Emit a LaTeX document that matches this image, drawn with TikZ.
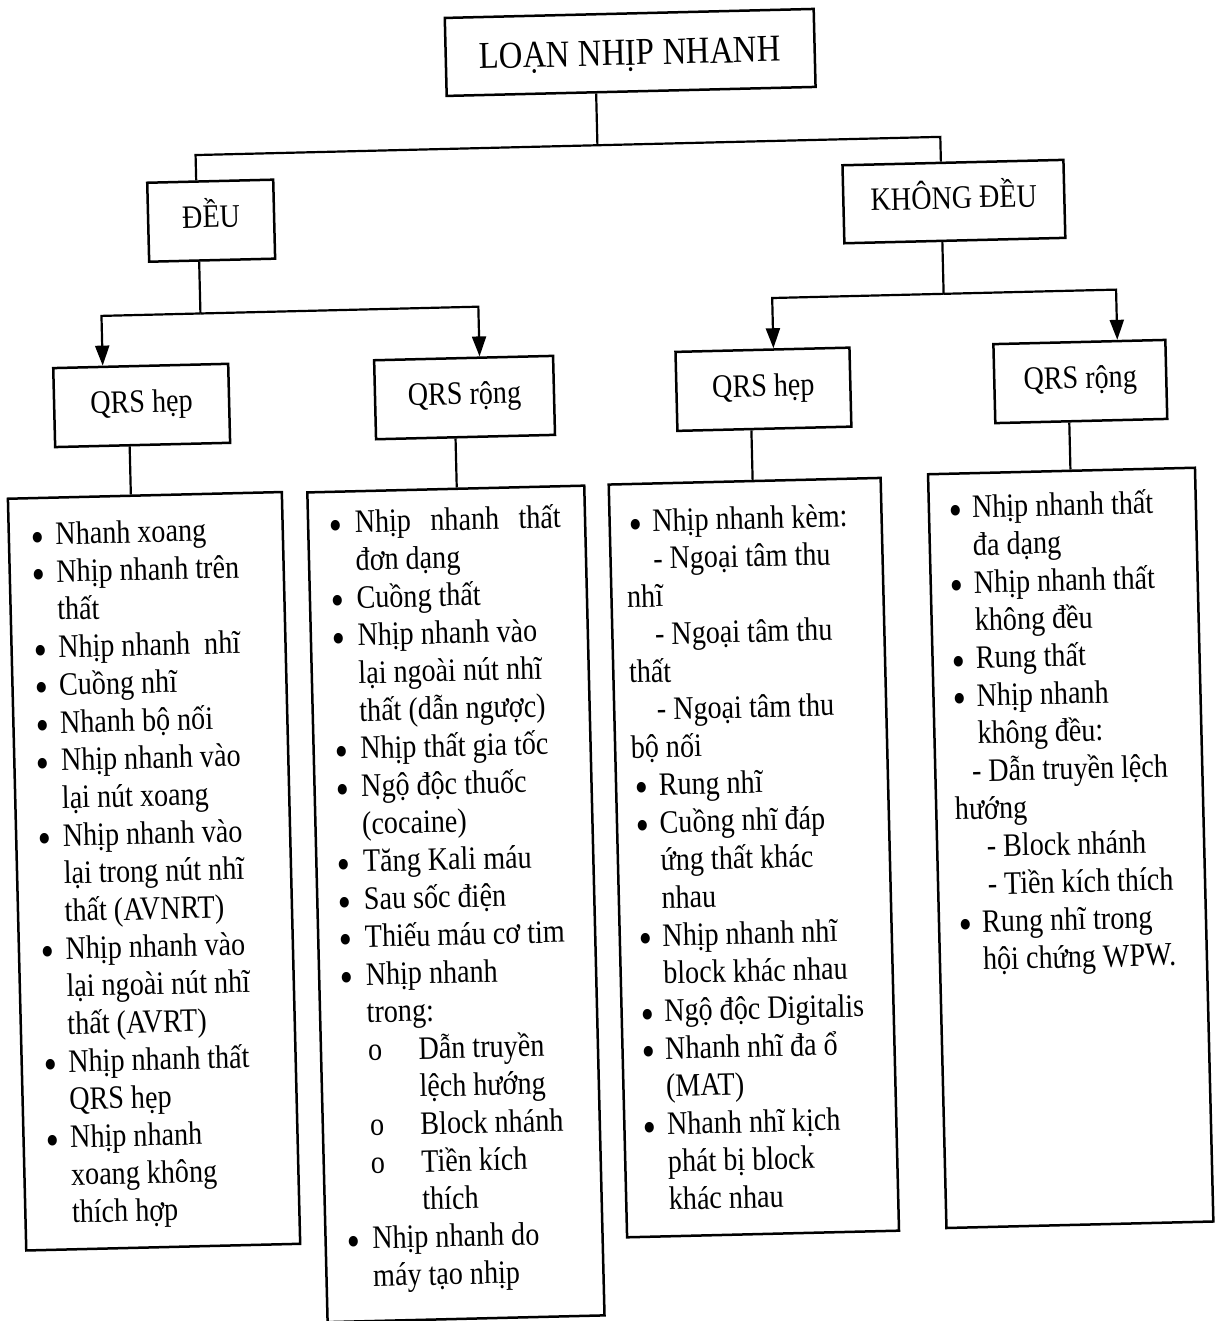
\documentclass[tikz,border=0pt]{standalone}
\usepackage{fontspec}
\usepackage{graphicx}
\setmainfont{Liberation Serif}[FakeStretch=0.86]
\usetikzlibrary{arrows.meta}

% list line helpers
\newlength\BulAt
\newlength\TxtAt
\newcommand\dotmark{\raisebox{-7pt}{\scalebox{1.35}{\textbullet}}}
\newcommand\Bu[1]{\hspace*{\BulAt}\makebox[\dimexpr\TxtAt-\BulAt\relax][l]{\dotmark}#1}
\newcommand\Ct[1]{\hspace*{\TxtAt}#1}
\newcommand\At[2]{\hspace*{#1}#2}
\newcommand\Sub[1]{\hspace*{26pt}\makebox[50.5pt][l]{o}#1}
\newcommand\bodyfont{\fontsize{32.7}{37.7}\selectfont}

\begin{document}
\begin{tikzpicture}[x=1pt,y=-1pt,
  box/.style={draw, line width=2.5pt, inner sep=0pt, font=\bodyfont,
              text height=22pt, text depth=8pt},
  listbox/.style={draw, line width=2.5pt, inner sep=0pt},
  link/.style={line width=2.2pt},
  arr/.style={link, -{Triangle[length=20pt,width=14pt]}},
  listtext/.style={anchor=base west, inner sep=0pt, font=\bodyfont}]

\fill[white] (0,0) rectangle (1227,1321);
\useasboundingbox (0,0) rectangle (1227,1321);

\begin{scope}[rotate around={1.4:(613,660)}, transform shape]

% heading and first level
\node[box, minimum width=369pt, minimum height=78pt,
      font=\fontsize{38}{44}\selectfont, text height=25.2pt, text depth=0pt]
      (title) at (645,53) {LOẠN NHỊP NHANH};
\node[box, minimum width=126pt, minimum height=79pt] (deu)  at (222,211) {ĐỀU};
\node[box, minimum width=221pt, minimum height=78pt] (kdeu) at (965,210) {KHÔNG ĐỀU};

% QRS level
\node[box, minimum width=175pt, minimum height=79pt] (qa) at (148,394) {QRS hẹp};
\node[box, minimum width=179pt, minimum height=79pt] (qb) at (471,394) {QRS rộng};
\node[box, minimum width=174pt, minimum height=79pt] (qc) at (770,393) {QRS hẹp};
\node[box, minimum width=172pt, minimum height=79pt] (qd) at (1087,393) {QRS rộng};

% list frames
\node[listbox, minimum width=274pt, minimum height=752pt] (la) at (149,860) {};
\node[listbox, minimum width=277pt, minimum height=830pt] (lb) at (450,900) {};
\node[listbox, minimum width=272pt, minimum height=753pt] (lc) at (749,861) {};
\node[listbox, minimum width=267pt, minimum height=754pt] (ld) at (1066,859) {};

% connectors
\coordinate (j0) at (610,145);
\coordinate (tl) at (208,145);
\coordinate (tr) at (953,145);
\draw[link] (title.south -| j0) -- (j0);
\draw[link] (deu.north -| tl) -- (tl) -- (tr) -- (kdeu.north -| tr);

\coordinate (j1) at (209,303.5);
\coordinate (a1) at (110,303.5);
\coordinate (a2) at (487,303.5);
\draw[link] (deu.south -| j1) -- (j1);
\draw[arr] (j1) -- (a1) -- (qa.north -| a1);
\draw[arr] (j1) -- (a2) -- (qb.north -| a2);

\coordinate (j2) at (952.5,302);
\coordinate (a3) at (781,302);
\coordinate (a4) at (1125,302);
\draw[link] (kdeu.south -| j2) -- (j2);
\draw[arr] (j2) -- (a3) -- (qc.north -| a3);
\draw[arr] (j2) -- (a4) -- (qd.north -| a4);

\coordinate (ca) at (135,460);
\coordinate (cb) at (461,460);
\coordinate (cc) at (757,458);
\coordinate (cd) at (1075,458);
\draw[link] (qa.south -| ca) -- (la.north -| ca);
\draw[link] (qb.south -| cb) -- (lb.north -| cb);
\draw[link] (qc.south -| cc) -- (lc.north -| cc);
\draw[link] (qd.south -| cd) -- (ld.north -| cd);

% list contents
\node[listtext] (ta) at (34,531) {\parbox[t]{260pt}{\bodyfont
  \setlength\BulAt{0pt}\setlength\TxtAt{24.5pt}%
  \Bu{Nhanh xoang}\\
  \Bu{Nhịp nhanh trên}\\
  \Ct{thất}\\
  \Bu{Nhịp nhanh\ \ nhĩ}\\
  \Bu{Cuồng nhĩ}\\
  \Bu{Nhanh bộ nối}\\
  \Bu{Nhịp nhanh vào}\\
  \Ct{lại nút xoang}\\
  \Bu{Nhịp nhanh vào}\\
  \Ct{lại trong nút nhĩ}\\
  \Ct{thất (AVNRT)}\\
  \Bu{Nhịp nhanh vào}\\
  \Ct{lại ngoài nút nhĩ}\\
  \Ct{thất (AVRT)}\\
  \Bu{Nhịp nhanh thất}\\
  \Ct{QRS hẹp}\\
  \Bu{Nhịp nhanh}\\
  \Ct{xoang không}\\
  \Ct{thích hợp}}};

\node[listtext] (tb) at (332.5,526.5) {\parbox[t]{260pt}{\bodyfont
  \setlength\BulAt{0pt}\setlength\TxtAt{25.5pt}%
  \Bu{\makebox[206pt][s]{Nhịp nhanh thất}}\\
  \Ct{đơn dạng}\\
  \Bu{Cuồng thất}\\
  \Bu{Nhịp nhanh vào}\\
  \Ct{lại ngoài nút nhĩ}\\
  \Ct{thất (dẫn ngược)}\\
  \Bu{Nhịp thất gia tốc}\\
  \Bu{Ngộ độc thuốc}\\
  \Ct{(cocaine)}\\
  \Bu{Tăng Kali máu}\\
  \Bu{Sau sốc điện}\\
  \Bu{Thiếu máu cơ tim}\\
  \Bu{Nhịp nhanh}\\
  \Ct{trong:}\\
  \Sub{Dẫn truyền}\\
  \At{76.5pt}{lệch hướng}\\
  \Sub{Block nhánh}\\
  \Sub{Tiền kích}\\
  \At{76.5pt}{thích}\\
  \Bu{Nhịp nhanh do}\\
  \Ct{máy tạo nhịp}}};

\node[listtext] (tc) at (628.5,532.5) {\parbox[t]{260pt}{\bodyfont
  \setlength\BulAt{3.5pt}\setlength\TxtAt{27pt}%
  \Bu{Nhịp nhanh kèm:}\\
  \At{27pt}{- Ngoại tâm thu}\\
  \At{0pt}{nhĩ}\\
  \At{27pt}{- Ngoại tâm thu}\\
  \At{0pt}{thất}\\
  \At{27pt}{- Ngoại tâm thu}\\
  \At{0pt}{bộ nối}\\
  \Bu{Rung nhĩ}\\
  \Bu{Cuồng nhĩ đáp}\\
  \Ct{ứng thất khác}\\
  \Ct{nhau}\\
  \Bu{Nhịp nhanh nhĩ}\\
  \Ct{block khác nhau}\\
  \Bu{Ngộ độc Digitalis}\\
  \Bu{Nhanh nhĩ đa ổ}\\
  \Ct{(MAT)}\\
  \Bu{Nhanh nhĩ kịch}\\
  \Ct{phát bị block}\\
  \Ct{khác nhau}}};

\node[listtext] (td) at (951,526.5) {\parbox[t]{250pt}{\bodyfont
  \setlength\BulAt{1pt}\setlength\TxtAt{24.5pt}%
  \Bu{Nhịp nhanh thất}\\
  \Ct{đa dạng}\\
  \Bu{Nhịp nhanh thất}\\
  \Ct{không đều}\\
  \Bu{Rung thất}\\
  \Bu{Nhịp nhanh}\\
  \Ct{không đều:}\\
  \At{18pt}{- Dẫn truyền lệch}\\
  \At{0pt}{hướng}\\
  \At{31pt}{- Block nhánh}\\
  \At{31pt}{- Tiền kích thích}\\
  \Bu{Rung nhĩ trong}\\
  \Ct{hội chứng WPW.}}};

\end{scope}
\end{tikzpicture}
\end{document}
